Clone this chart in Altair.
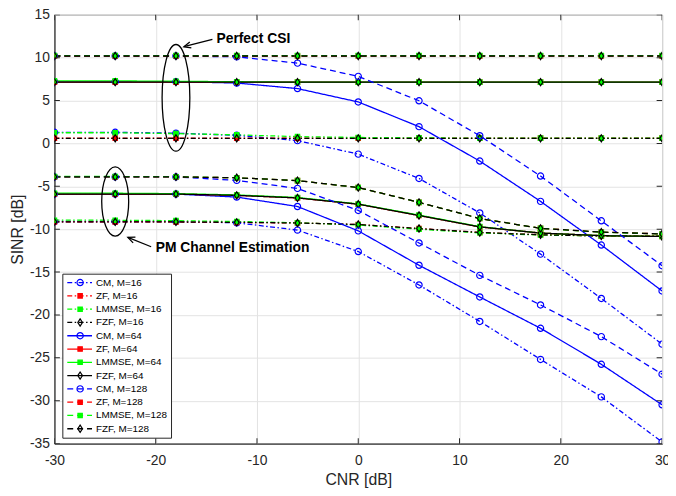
import altair as alt
import pandas as pd

# ---------------- data ----------------
CNR = [-30, -24, -18, -12, -6, 0, 6, 12, 18, 24, 30]
X_TICKS = [-30, -20, -10, 0, 10, 20, 30]
Y_TICKS = [-35, -30, -25, -20, -15, -10, -5, 0, 5, 10, 15]
METHODS = ["CM", "ZF", "LMMSE", "FZF"]
ANTENNAS = [16, 64, 128]

# Perfect CSI
PERF_CM_16 = [1.3, 1.3, 1.2, 0.95, 0.33, -1.24, -4.08, -8.1, -12.9, -18.07, -23.4]
PERF_ZF_16 = [0.62, 0.62, 0.62, 0.62, 0.62, 0.62, 0.62, 0.62, 0.62, 0.62, 0.62]
PERF_LMMSE_16 = [1.25, 1.25, 1.15, 1.0, 0.8, 0.7, 0.65, 0.62, 0.62, 0.62, 0.62]
PERF_FZF_16 = [0.6, 0.6, 0.6, 0.6, 0.6, 0.6, 0.6, 0.6, 0.6, 0.6, 0.6]
PERF_CM_64 = [7.2, 7.2, 7.2, 7.05, 6.4, 4.84, 1.96, -2.05, -6.75, -11.84, -17.2]
PERF_ZF_64 = [7.15, 7.15, 7.15, 7.15, 7.15, 7.15, 7.15, 7.15, 7.15, 7.15, 7.15]
PERF_LMMSE_64 = [7.3, 7.3, 7.25, 7.2, 7.15, 7.15, 7.15, 7.15, 7.15, 7.15, 7.15]
PERF_FZF_64 = [7.15, 7.15, 7.15, 7.15, 7.15, 7.15, 7.15, 7.15, 7.15, 7.15, 7.15]
PERF_CM_128 = [10.2, 10.2, 10.2, 10.1, 9.37, 7.82, 4.98, 0.9, -3.8, -9.02, -14.25]
PERF_ZF_128 = [10.2, 10.2, 10.2, 10.2, 10.2, 10.2, 10.2, 10.2, 10.2, 10.2, 10.2]
PERF_LMMSE_128 = [10.25, 10.25, 10.25, 10.25, 10.25, 10.25, 10.25, 10.25, 10.25, 10.25, 10.25]
PERF_FZF_128 = [10.2, 10.2, 10.2, 10.2, 10.2, 10.2, 10.2, 10.2, 10.2, 10.2, 10.2]

# PM channel estimation
PM_CM_16 = [-9.1, -9.1, -9.1, -9.25, -10.1, -12.6, -16.5, -20.75, -25.18, -29.55, -34.8]
PM_ZF_16 = [-9.15, -9.15, -9.15, -9.2, -9.27, -9.45, -9.92, -10.38, -10.65, -10.78, -10.8]
PM_LMMSE_16 = [-8.95, -8.95, -9.0, -9.1, -9.25, -9.5, -10.0, -10.42, -10.68, -10.78, -10.82]
PM_FZF_16 = [-9.15, -9.15, -9.15, -9.2, -9.27, -9.45, -9.92, -10.38, -10.65, -10.78, -10.8]
PM_CM_64 = [-5.9, -5.9, -5.9, -6.25, -7.35, -10.19, -14.2, -17.9, -21.55, -25.75, -30.47]
PM_ZF_64 = [-5.9, -5.9, -5.9, -6.05, -6.35, -7.08, -8.4, -9.73, -10.45, -10.75, -10.85]
PM_LMMSE_64 = [-5.8, -5.8, -5.85, -6.0, -6.3, -7.05, -8.35, -9.7, -10.45, -10.75, -10.85]
PM_FZF_64 = [-5.9, -5.9, -5.9, -6.05, -6.35, -7.08, -8.4, -9.73, -10.45, -10.75, -10.85]
PM_CM_128 = [-3.9, -3.9, -3.9, -4.3, -5.24, -7.81, -11.6, -15.38, -18.83, -22.52, -26.9]
PM_ZF_128 = [-3.9, -3.9, -3.9, -4.0, -4.33, -5.14, -6.87, -8.75, -9.9, -10.33, -10.55]
PM_LMMSE_128 = [-3.85, -3.85, -3.88, -4.0, -4.33, -5.14, -6.87, -8.75, -9.9, -10.35, -10.55]
PM_FZF_128 = [-3.9, -3.9, -3.9, -4.0, -4.33, -5.14, -6.87, -8.75, -9.9, -10.33, -10.55]

PERFECT = {
    ("CM", 16): PERF_CM_16, ("ZF", 16): PERF_ZF_16, ("LMMSE", 16): PERF_LMMSE_16, ("FZF", 16): PERF_FZF_16,
    ("CM", 64): PERF_CM_64, ("ZF", 64): PERF_ZF_64, ("LMMSE", 64): PERF_LMMSE_64, ("FZF", 64): PERF_FZF_64,
    ("CM", 128): PERF_CM_128, ("ZF", 128): PERF_ZF_128, ("LMMSE", 128): PERF_LMMSE_128, ("FZF", 128): PERF_FZF_128,
}
PM = {
    ("CM", 16): PM_CM_16, ("ZF", 16): PM_ZF_16, ("LMMSE", 16): PM_LMMSE_16, ("FZF", 16): PM_FZF_16,
    ("CM", 64): PM_CM_64, ("ZF", 64): PM_ZF_64, ("LMMSE", 64): PM_LMMSE_64, ("FZF", 64): PM_FZF_64,
    ("CM", 128): PM_CM_128, ("ZF", 128): PM_ZF_128, ("LMMSE", 128): PM_LMMSE_128, ("FZF", 128): PM_FZF_128,
}

# annotations (data coordinates)
ANN_TEXT = ["Perfect CSI", "PM Channel Estimation"]
ANN_TEXT_X = [-14.0, -20.0]
ANN_TEXT_Y = [12.12, -12.22]
ARROW_TAIL_X = [-14.4, -20.45]
ARROW_TAIL_Y = [12.15, -12.04]
ARROW_TIP_X = [-17.22, -22.75]
ARROW_TIP_Y = [11.28, -10.95]
ELLIPSE_X = [-18, -24]
ELLIPSE_Y = [5.32, -6.77]

# ---------------- styles ----------------
METHOD_COLOR = {"CM": "#0000ff", "ZF": "#ff0000", "LMMSE": "#00ff00", "FZF": "#000000"}
METHOD_FILL = {"CM": "transparent", "ZF": "#ff0000", "LMMSE": "#00ff00", "FZF": "transparent"}
SQUARE = "M-0.7,-0.7H0.7V0.7H-0.7Z"
METHOD_SHAPE = {"CM": "circle", "ZF": SQUARE, "LMMSE": SQUARE,
                "FZF": "M0,-1.15L0.75,0L0,1.15L-0.75,0Z"}
M_DASH = {16: [5, 2.5, 1.5, 2.5], 64: [1, 0], 128: [6, 4]}
FONT = "Liberation Sans"
TXT = "#262626"

SERIES = [f"{m}, M={a}" for a in ANTENNAS for m in METHODS]
SERIES_P = ["p " + s for s in SERIES]
LINE_COLORS = [METHOD_COLOR[m] for a in ANTENNAS for m in METHODS]
LINE_DASH = [M_DASH[a] for a in ANTENNAS for m in METHODS]
PT_SHAPES = [METHOD_SHAPE[m] for a in ANTENNAS for m in METHODS]
PT_FILLS = [METHOD_FILL[m] for a in ANTENNAS for m in METHODS]

rows = []
for a in ANTENNAS:
    for m in METHODS:
        for csi, table in (("perfect", PERFECT), ("pm", PM)):
            for x, y in zip(CNR, table[(m, a)]):
                rows.append({"cnr": x, "sinr": y, "series": f"{m}, M={a}",
                             "series_p": f"p {m}, M={a}", "key": f"{m}-{a}-{csi}"})
df = pd.DataFrame(rows)

xs = alt.Scale(domain=[-30, 30], nice=False, zero=False)
ys = alt.Scale(domain=[-35, 15], nice=False, zero=False)
minus_expr = "datum.value < 0 ? '-' + abs(datum.value) : '' + datum.value"
xaxis = alt.Axis(values=X_TICKS, labelExpr=minus_expr, title="CNR [dB]", labelFlush=False,
                 labelPadding=10, titlePadding=4)
yaxis = alt.Axis(values=Y_TICKS, labelExpr=minus_expr, title="SINR [dB]", labelFlush=False,
                 labelPadding=5, titlePadding=4)

leg_lines = alt.Legend(orient="none", legendX=8, legendY=262, title=None,
                       symbolType="stroke", symbolSize=625, symbolStrokeWidth=1.3,
                       clipHeight=10, labelFont=FONT, labelFontSize=10, labelColor="#000000",
                       labelOffset=3, rowPadding=3.45, padding=4, strokeColor=TXT,
                       fillColor="white", labelLimit=300, zindex=1)
leg_pts = alt.Legend(orient="none", legendX=8, legendY=262, title=None,
                     symbolSize=40, symbolStrokeWidth=1.2, clipHeight=10, symbolOffset=9,
                     labelFont=FONT, labelFontSize=10, labelExpr="''", labelOffset=3,
                     rowPadding=3.45, padding=4, zindex=2)

base = alt.Chart(df)
lines = base.mark_line(strokeWidth=1.3, clip=True).encode(
    x=alt.X("cnr:Q", scale=xs, axis=xaxis),
    y=alt.Y("sinr:Q", scale=ys, axis=yaxis),
    color=alt.Color("series:N", scale=alt.Scale(domain=SERIES, range=LINE_COLORS), legend=leg_lines),
    strokeDash=alt.StrokeDash("series:N", scale=alt.Scale(domain=SERIES, range=LINE_DASH), legend=leg_lines),
    detail="key:N",
)
points = base.mark_point(size=40, opacity=1, strokeWidth=1.2, clip=True).encode(
    x=alt.X("cnr:Q", scale=xs),
    y=alt.Y("sinr:Q", scale=ys),
    shape=alt.Shape("series_p:N", scale=alt.Scale(domain=SERIES_P, range=PT_SHAPES), legend=leg_pts),
    stroke=alt.Stroke("series_p:N", scale=alt.Scale(domain=SERIES_P, range=LINE_COLORS), legend=leg_pts),
    fill=alt.Fill("series_p:N", scale=alt.Scale(domain=SERIES_P, range=PT_FILLS), legend=leg_pts),
)

# inward tick marks on all four sides (MATLAB style), clipped to the plot area
ytick_df = pd.DataFrame({"x": [-30] * len(Y_TICKS) + [30] * len(Y_TICKS), "y": Y_TICKS + Y_TICKS})
xtick_df = pd.DataFrame({"x": X_TICKS + X_TICKS, "y": [-35] * len(X_TICKS) + [15] * len(X_TICKS)})
yticks = alt.Chart(ytick_df).mark_tick(orient="horizontal", size=11, thickness=1, color=TXT,
                                       opacity=1, clip=True).encode(
    x=alt.X("x:Q", scale=xs), y=alt.Y("y:Q", scale=ys))
xticks = alt.Chart(xtick_df).mark_tick(orient="vertical", size=11, thickness=1, color=TXT,
                                       opacity=1, clip=True).encode(
    x=alt.X("x:Q", scale=xs), y=alt.Y("y:Q", scale=ys))


def ellipse_path(a):
    k = 0.5523
    return (f"M0,-1C{k*a:.3f},-1 {a:.3f},-{k} {a:.3f},0C{a:.3f},{k} {k*a:.3f},1 0,1"
            f"C{-k*a:.3f},1 {-a:.3f},{k} {-a:.3f},0C{-a:.3f},-{k} {-k*a:.3f},-1 0,-1Z")


ell_df = pd.DataFrame({"x": ELLIPSE_X, "y": ELLIPSE_Y})
ell1 = alt.Chart(ell_df.iloc[[0]]).mark_point(
    shape=ellipse_path(0.26), size=11664, filled=False, stroke="black", strokeWidth=1.3, opacity=1
).encode(x=alt.X("x:Q", scale=xs), y=alt.Y("y:Q", scale=ys))
ell2 = alt.Chart(ell_df.iloc[[1]]).mark_point(
    shape=ellipse_path(0.39), size=4900, filled=False, stroke="black", strokeWidth=1.3, opacity=1
).encode(x=alt.X("x:Q", scale=xs), y=alt.Y("y:Q", scale=ys))

arr_df = pd.DataFrame({"x": ARROW_TAIL_X, "y": ARROW_TAIL_Y, "x2": ARROW_TIP_X, "y2": ARROW_TIP_Y,
                       "ang": [255.3, 291.7]})
shafts = alt.Chart(arr_df).mark_rule(color="black", strokeWidth=1.3).encode(
    x=alt.X("x:Q", scale=xs), y=alt.Y("y:Q", scale=ys), x2="x2:Q", y2="y2:Q")
heads = alt.Chart(arr_df).mark_point(
    shape="M-0.45,1L0,0L0.45,1", size=196, filled=False, stroke="black", strokeWidth=1.3, opacity=1
).encode(x=alt.X("x2:Q", scale=xs), y=alt.Y("y2:Q", scale=ys), angle=alt.Angle("ang:Q", scale=None))

txt_df = pd.DataFrame({"x": ANN_TEXT_X, "y": ANN_TEXT_Y, "t": ANN_TEXT})
texts = alt.Chart(txt_df).mark_text(font=FONT, fontWeight="bold", fontSize=14, align="left",
                                    baseline="middle", color="black").encode(
    x=alt.X("x:Q", scale=xs), y=alt.Y("y:Q", scale=ys), text="t:N")

chart = alt.layer(lines, points, yticks, xticks, ell1, ell2, shafts, heads, texts).properties(
    width=615, height=434,
    autosize=alt.AutoSizeParams(type="none"),
    padding={"left": 47, "top": 4, "right": 6, "bottom": 42},
    background="white",
).configure_view(stroke=TXT, strokeWidth=1).configure_axis(
    labelFont=FONT, labelFontSize=14, labelColor=TXT, titleFont=FONT, titleFontSize=16,
    titleFontWeight="normal", titleColor=TXT, grid=True, gridColor="#e3e3e3", gridWidth=1,
    ticks=False, domainColor=TXT, domainWidth=1,
)

chart.save("out.html", embed_options={"renderer": "svg", "actions": False})
